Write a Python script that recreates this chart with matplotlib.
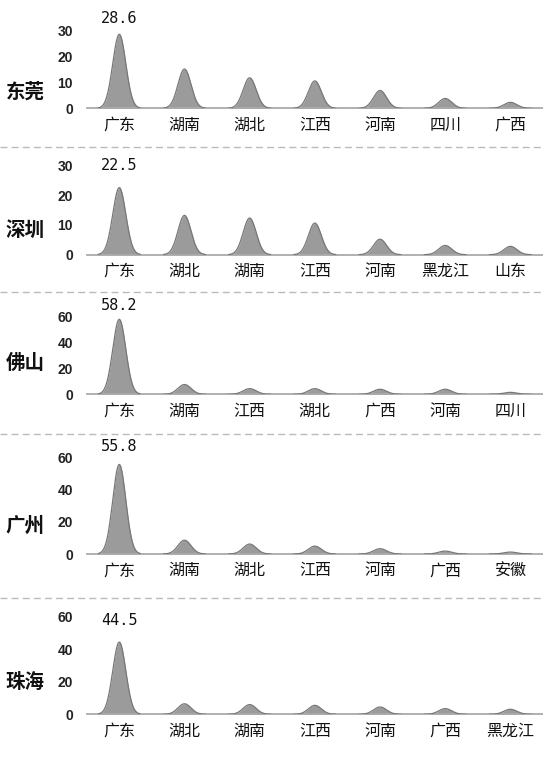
import numpy as np
import matplotlib
matplotlib.use("Agg")
import matplotlib.pyplot as plt

plt.rcParams['font.family'] = ['Noto Sans CJK SC', 'DejaVu Sans']

# data
cities = ['东莞', '深圳', '佛山', '广州', '珠海']
provinces = [
    ['广东', '湖南', '湖北', '江西', '河南', '四川', '广西'],
    ['广东', '湖北', '湖南', '江西', '河南', '黑龙江', '山东'],
    ['广东', '湖南', '江西', '湖北', '广西', '河南', '四川'],
    ['广东', '湖南', '湖北', '江西', '河南', '广西', '安徽'],
    ['广东', '湖北', '湖南', '江西', '河南', '广西', '黑龙江'],
]
shares = [
    [28.6, 15.2, 11.8, 10.6, 6.9, 3.8, 2.3],
    [22.5, 13.2, 12.3, 10.6, 5.2, 3.1, 2.8],
    [58.2, 7.6, 4.4, 4.4, 3.9, 3.9, 1.5],
    [55.8, 8.6, 6.2, 4.9, 3.3, 1.8, 1.2],
    [44.5, 6.5, 6.0, 5.5, 4.5, 3.5, 3.1],
]
yticks = [[0, 10, 20, 30], [0, 10, 20, 30], [0, 20, 40, 60], [0, 20, 40, 60], [0, 20, 40, 60]]

# layout in pixels (top of axes, baseline, city label y, value label offset)
W, H = 543, 759
ax_top = [30.7, 165.3, 317.0, 457.7, 617.0]
ax_base = [108.3, 254.7, 394.3, 554.0, 714.3]
city_y = [91.7, 230.3, 363.7, 525.7, 682.0]
lab_off = [8, 15, 6, 10, 14]
sep_y = [147, 292, 434, 598]
ax_left = 86.7

fig = plt.figure(figsize=(W / 100, H / 100), dpi=100)

xs = np.linspace(-0.32, 0.32, 129)
bump = np.exp(-xs ** 2 / (2 * 0.1 ** 2))

for r in range(len(cities)):
    b, t = ax_base[r], ax_top[r]
    ax = fig.add_axes([ax_left / W, 1 - b / H, (W - ax_left) / W, (b - t) / H])
    vals = shares[r]
    for i, v in enumerate(vals):
        ax.fill_between(i + xs, 0, v * bump, color='#9b9b9b', lw=0, zorder=2)
        ax.plot(i + xs, v * bump, color='#777777', lw=0.9, zorder=3)
    ax.set_xlim(-0.5, 6.5)
    ax.set_ylim(0, yticks[r][-1])
    ax.set_yticks(yticks[r])
    ax.set_yticklabels([str(v) for v in yticks[r]], fontsize=10,
                       family=['Liberation Sans', 'DejaVu Sans'], fontweight='bold',
                       color='#222222')
    ax.set_xticks(range(len(vals)))
    ax.set_xticklabels(provinces[r], fontsize=11.5, fontweight='medium', color='#111111')
    ax.tick_params(axis='y', length=0, pad=10)
    ax.tick_params(axis='x', length=0, pad=6)
    for s in ['top', 'right', 'left']:
        ax.spines[s].set_visible(False)
    ax.spines['bottom'].set_color('#aaaaaa')
    ax.spines['bottom'].set_linewidth(1.3)
    ax.patch.set_alpha(0)
    ax.annotate('%.1f' % vals[0], (0, vals[0]), xytext=(0, lab_off[r] * 0.72),
                textcoords='offset points', ha='center', va='bottom',
                fontsize=11, family=['DejaVu Sans Mono'], color='#111111',
                annotation_clip=False)
    fig.text(25 / W, 1 - city_y[r] / H, cities[r], ha='center', va='center',
             fontsize=14, fontweight='bold', color='#111111')

for y in sep_y:
    fig.add_artist(plt.Line2D([0, 1], [1 - y / H, 1 - y / H], color='#bbbbbb',
                              lw=1, ls=(0, (5, 3))))

fig.savefig('out.png', dpi=100)
